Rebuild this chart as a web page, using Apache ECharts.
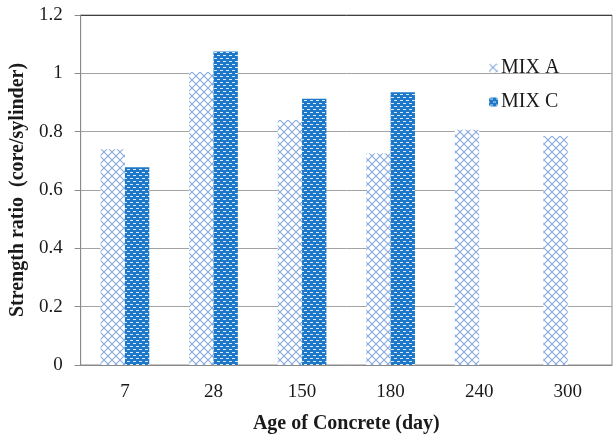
<!DOCTYPE html>
<html>
<head>
<meta charset="utf-8">
<script src="https://cdn.jsdelivr.net/npm/echarts@6/dist/echarts.min.js"></script>
<style>
  html, body { margin: 0; padding: 0; background: #fff; }
  #chart { width: 616px; height: 439px; }
</style>
</head>
<body>
<div id="chart"></div>
<script>
// Core-to-cylinder strength ratio by concrete age
const ages = ['7', '28', '150', '180', '240', '300'];
const mixA = [0.74, 1.005, 0.84, 0.725, 0.807, 0.785];
const mixC = [0.678, 1.075, 0.913, 0.935, null, null];
const seriesNames = ['MIX A', 'MIX C'];

// Light blue diagonal lattice fill
function latticePattern() {
  const c = document.createElement('canvas');
  c.width = 8; c.height = 8;
  const g = c.getContext('2d');
  g.fillStyle = '#ffffff';
  g.fillRect(0, 0, 8, 8);
  g.strokeStyle = '#86aade';
  g.lineWidth = 1.1;
  g.beginPath();
  g.moveTo(0, 0); g.lineTo(8, 8);
  g.moveTo(8, 0); g.lineTo(0, 8);
  g.stroke();
  return c;
}

// Solid blue fill with staggered white dashes
function dashPattern() {
  const c = document.createElement('canvas');
  c.width = 6; c.height = 6;
  const g = c.getContext('2d');
  g.fillStyle = '#1d78c9';
  g.fillRect(0, 0, 6, 6);
  g.fillStyle = 'rgba(255,255,255,0.85)';
  g.fillRect(1, 1, 3, 1);
  g.fillRect(4, 4, 2, 1);
  g.fillRect(0, 4, 1, 1);
  return c;
}

const fillA = { image: latticePattern(), repeat: 'repeat' };
const fillC = { image: dashPattern(), repeat: 'repeat' };

const textColor = '#1a1a1a';
const serif = 'Liberation Serif, Times New Roman, serif';

const chart = echarts.init(document.getElementById('chart'), null, { renderer: 'canvas' });
chart.setOption({
  animation: false,
  backgroundColor: '#ffffff',
  textStyle: { fontFamily: serif },
  grid: {
    left: 78, right: 4, top: 15, bottom: 69,
    show: true, borderColor: '#8a8a8a', borderWidth: 1, containLabel: false
  },
  legend: {
    orient: 'vertical',
    left: 484, top: 53,
    itemWidth: 9, itemHeight: 9,
    itemGap: 14,
    textStyle: { fontFamily: serif, fontSize: 20, color: textColor, padding: [0, 0, 0, -2] },
    data: seriesNames
  },
  xAxis: {
    type: 'category',
    data: ages,
    name: 'Age of Concrete (day)',
    nameLocation: 'middle',
    nameGap: 59,
    nameTextStyle: {
      fontFamily: serif, fontSize: 20, fontWeight: 'bold', color: textColor,
      verticalAlign: 'middle'
    },
    axisLine: { lineStyle: { color: '#8a8a8a', width: 1 } },
    axisTick: { show: false },
    axisLabel: { fontFamily: serif, fontSize: 19, color: textColor, margin: 18 }
  },
  yAxis: {
    type: 'value',
    min: 0, max: 1.2, interval: 0.2,
    name: 'Strength ratio  (core/sylinder)',
    nameLocation: 'middle',
    nameGap: 56,
    nameTextStyle: {
      fontFamily: serif, fontSize: 20, fontWeight: 'bold', color: textColor,
      verticalAlign: 'middle'
    },
    axisLine: { show: true, lineStyle: { color: '#8a8a8a', width: 1 } },
    axisTick: { show: true, length: 6, lineStyle: { color: '#8a8a8a' } },
    axisLabel: { fontFamily: serif, fontSize: 19, color: textColor, margin: 18 },
    splitLine: {
      show: true,
      lineStyle: {
        color: ['#a3a3a3', '#a3a3a3', '#a3a3a3', '#a3a3a3', '#a3a3a3', '#a3a3a3', '#404040'],
        width: 1
      }
    }
  },
  series: [
    {
      name: seriesNames[0],
      type: 'bar',
      data: mixA,
      barGap: '0%',
      barCategoryGap: '45%',
      itemStyle: { color: fillA }
    },
    {
      name: seriesNames[1],
      type: 'bar',
      data: mixC,
      barGap: '0%',
      barCategoryGap: '45%',
      itemStyle: { color: fillC }
    }
  ]
});
</script>
</body>
</html>
